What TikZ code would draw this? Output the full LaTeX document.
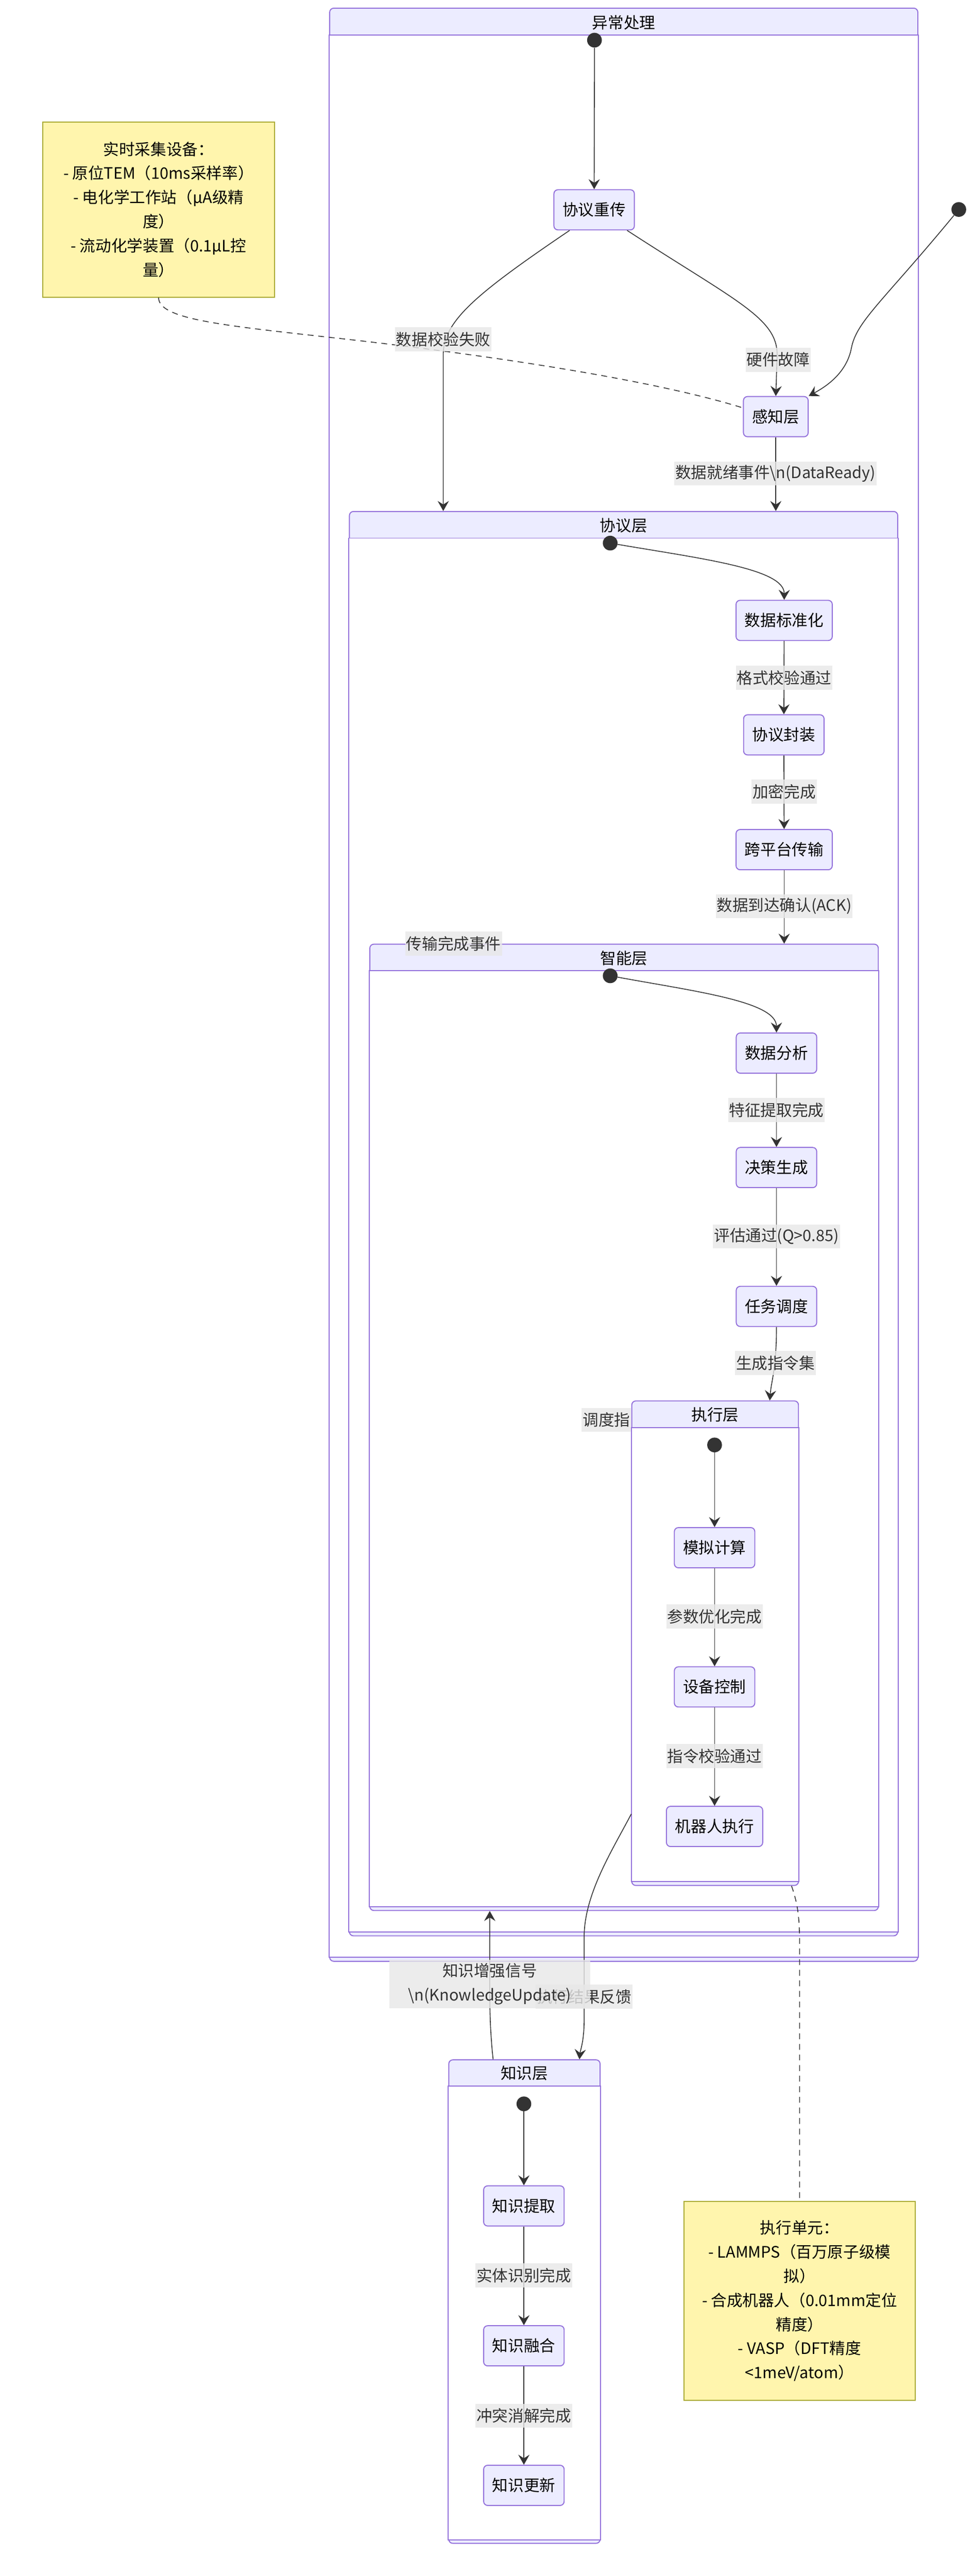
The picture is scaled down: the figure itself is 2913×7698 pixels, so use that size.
\documentclass[tikz,border=0pt]{standalone}
\usepackage{fontspec}
\newfontfamily\cjk{Noto Sans CJK SC}
\usetikzlibrary{arrows.meta}
\definecolor{stateFill}{HTML}{ECECFF}
\definecolor{stateLine}{HTML}{9370DB}
\definecolor{edgeCol}{HTML}{333333}
\definecolor{lblFill}{HTML}{E8E8E8}
\definecolor{noteFill}{HTML}{FFF5AD}
\definecolor{noteLine}{HTML}{AAAA33}
\begin{document}
\begin{tikzpicture}[x=0.01cm, y=-0.01cm,
  font=\cjk\fontsize{13.4pt}{16pt}\selectfont,
  >={Stealth[length=8.5pt,width=9.5pt,inset=3pt]},
  stbox/.style={draw=stateLine, fill=stateFill, line width=0.85pt, rounded corners=0.12cm, minimum height=1.2cm, inner xsep=0.26cm},
  comp/.style={draw=stateLine, fill=stateFill, line width=0.85pt, rounded corners=0.12cm, anchor=north west, inner sep=0pt},
  compbody/.style={draw=stateLine, fill=white, line width=0.85pt},
  initdot/.style={circle, fill=edgeCol, minimum size=0.44cm, inner sep=0pt},
  arr/.style={draw=edgeCol, line width=0.7pt, ->},
  ndash/.style={draw=edgeCol, line width=0.7pt, dash pattern=on 5pt off 4pt},
  lbl/.style={fill=lblFill, fill opacity=0.8, text opacity=1, text=edgeCol, inner xsep=0.03cm, inner ysep=0pt, minimum height=0.72cm},
  notebox/.style={draw=noteLine, fill=noteFill, line width=0.9pt, align=center, inner sep=0pt, font=\cjk\fontsize{13.4pt}{20.5pt}\selectfont}
]
\path[fill=white] (0,0) rectangle (2913,7698);
\useasboundingbox (0,0) rectangle (2913,7698);

% composite states
\node[comp, minimum width=17.57cm, minimum height=58.33cm] (abn) at (984,23) {};
\draw[compbody] ([yshift=-0.82cm]abn.north west) rectangle ([yshift=0.13cm]abn.south east);
\node at ([yshift=-0.44cm]abn.north) {异常处理};

\node[comp, minimum width=16.38cm, minimum height=42.54cm] (proto) at (1043,1527) {};
\draw[compbody] ([yshift=-0.81cm]proto.north west) rectangle ([yshift=0.13cm]proto.south east);
\node at ([yshift=-0.43cm]proto.north) {协议层};

\node[comp, minimum width=15.19cm, minimum height=28.86cm] (intel) at (1104,2820) {};
\draw[compbody] ([yshift=-0.81cm]intel.north west) rectangle ([yshift=0.13cm]intel.south east);
\node at ([yshift=-0.43cm]intel.north) {智能层};

\node[comp, minimum width=4.98cm, minimum height=14.47cm] (exec) at (1887,4185) {};
\draw[compbody] ([yshift=-0.81cm]exec.north west) rectangle ([yshift=0.13cm]exec.south east);
\node at ([yshift=-0.43cm]exec.north) {执行层};

\node[comp, minimum width=4.52cm, minimum height=14.44cm] (know) at (1340,6154) {};
\draw[compbody] ([yshift=-0.79cm]know.north west) rectangle ([yshift=0.12cm]know.south east);
\node at ([yshift=-0.42cm]know.north) {知识层};

% notes
\node[notebox, minimum width=6.92cm, minimum height=5.23cm] (note1) at (474,626) {实时采集设备：\\- 原位TEM（10ms采样率）\\- 电化学工作站（μA级精\\度）\\- 流动化学装置（0.1μL控\\量）};
\node[notebox, minimum width=6.91cm, minimum height=5.93cm] (note2) at (2390,6876) {执行单元：\\- LAMMPS（百万原子级模\\拟）\\- 合成机器人（0.01mm定位\\精度）\\- VASP（DFT精度\\<1meV/atom）};

% states
\node[stbox] (retry) at (1776,627) {协议重传};
\node[stbox] (sense) at (2319,1245) {感知层};
\node[stbox] (norm) at (2344,1854) {数据标准化};
\node[stbox] (pack) at (2343,2196) {协议封装};
\node[stbox] (xfer) at (2344,2539) {跨平台传输};
\node[stbox] (analy) at (2321,3147) {数据分析};
\node[stbox] (decide) at (2321,3489) {决策生成};
\node[stbox] (sched) at (2321,3904) {任务调度};
\node[stbox] (sim) at (2136,4625) {模拟计算};
\node[stbox] (dev) at (2136,5041) {设备控制};
\node[stbox] (robot) at (2136,5458) {机器人执行};
\node[stbox] (kext) at (1566,6592) {知识提取};
\node[stbox] (kfuse) at (1566,7010) {知识融合};
\node[stbox] (kupd) at (1566,7427) {知识更新};

\node[initdot] (s0) at (1777,120) {};
\node[initdot] (s1) at (2866,626) {};
\node[initdot] (s2) at (1824,1623) {};
\node[initdot] (s3) at (1824,2916) {};
\node[initdot] (s4) at (2136,4318) {};
\node[initdot] (s5) at (1566,6287) {};

% transitions
\draw[arr] (s0) -- (retry);
\draw[arr] (retry.220) .. controls (1420,880) and (1325,960) .. (1325,1060) -- (1325,0 |- proto.north);
\draw[arr] (retry.328) .. controls (2200,900) and (2323,950) .. (2323,1060) -- (sense.north);
\draw[arr] (s1) .. controls (2640,900) and (2560,960) .. (2545,1040) .. controls (2530,1120) and (2460,1160) .. (sense.north east);
\draw[arr] (sense) -- (sense |- proto.north);
\draw[ndash] (note1.south) .. controls (474,960) and (700,975) .. (1100,1021) .. controls (1600,1080) and (2000,1150) .. ([yshift=0.26cm]sense.west);

\draw[arr] (s2) .. controls (2100,1670) and (2345,1700) .. (norm.north);
\draw[arr] (norm) -- (pack);
\draw[arr] (pack) -- (xfer);
\draw[arr] (xfer) -- (xfer |- intel.north);

\draw[arr] (s3) .. controls (2080,2963) and (2321,2993) .. (analy.north);
\draw[arr] (analy) -- (decide);
\draw[arr] (decide) -- (sched);
\draw[arr] (sched) .. controls (2321,4090) and (2305,4130) .. (2301,0 |- exec.north);

\draw[arr] (s4) -- (sim);
\draw[arr] (sim) -- (dev);
\draw[arr] (dev) -- (robot);

\draw[arr] ([yshift=-5.1cm]exec.west) .. controls (1830,5530) and (1746,5660) .. (1746,5790) -- (1746,6040) .. controls (1746,6100) and (1734,6130) .. (1732,0 |- know.north);
\draw[arr] (1474,0 |- know.north) .. controls (1466,6080) and (1464,6020) .. (1464,5940) -- (1464,0 |- intel.south);
\draw[ndash] (2366,0 |- exec.south) .. controls (2385,5690) and (2390,5730) .. (2390,5810) -- (note2.north);

\draw[arr] (s5) -- (kext);
\draw[arr] (kext) -- (kfuse);
\draw[arr] (kfuse) -- (kupd);

% transition labels
\node[lbl] at (1325,1014) {数据校验失败};
\node[lbl] at (2326,1075) {硬件故障};
\node[lbl] at (2318,1415) {数据就绪事件\textbackslash n(DataReady)};
\node[lbl] at (2344,2025) {格式校验通过};
\node[lbl] at (2344,2366) {加密完成};
\node[lbl] at (2344,2708) {数据到达确认(ACK)};
\node[lbl] at (1356,2820) {传输完成事件};
\node[lbl] at (2321,3317) {特征提取完成};
\node[lbl] at (2321,3695) {评估通过(Q>0.85)};
\node[lbl] at (2318,4073) {生成指令集};
\node[lbl, anchor=east] at (exec.west |- 0,4243) {调度指};
\node[lbl] at (2136,4831) {参数优化完成};
\node[lbl] at (2136,5248) {指令校验通过};
\node[lbl] at (1746,5967) {执行结果反馈};
\node[lbl, minimum width=6cm, minimum height=1.44cm, align=center, font=\cjk\fontsize{13.4pt}{20.7pt}\selectfont] at (1464,5929) {知识增强信号\\\textbackslash n(KnowledgeUpdate)};
\node[lbl] at (1566,6800) {实体识别完成};
\node[lbl] at (1566,7219) {冲突消解完成};
\end{tikzpicture}
\end{document}
